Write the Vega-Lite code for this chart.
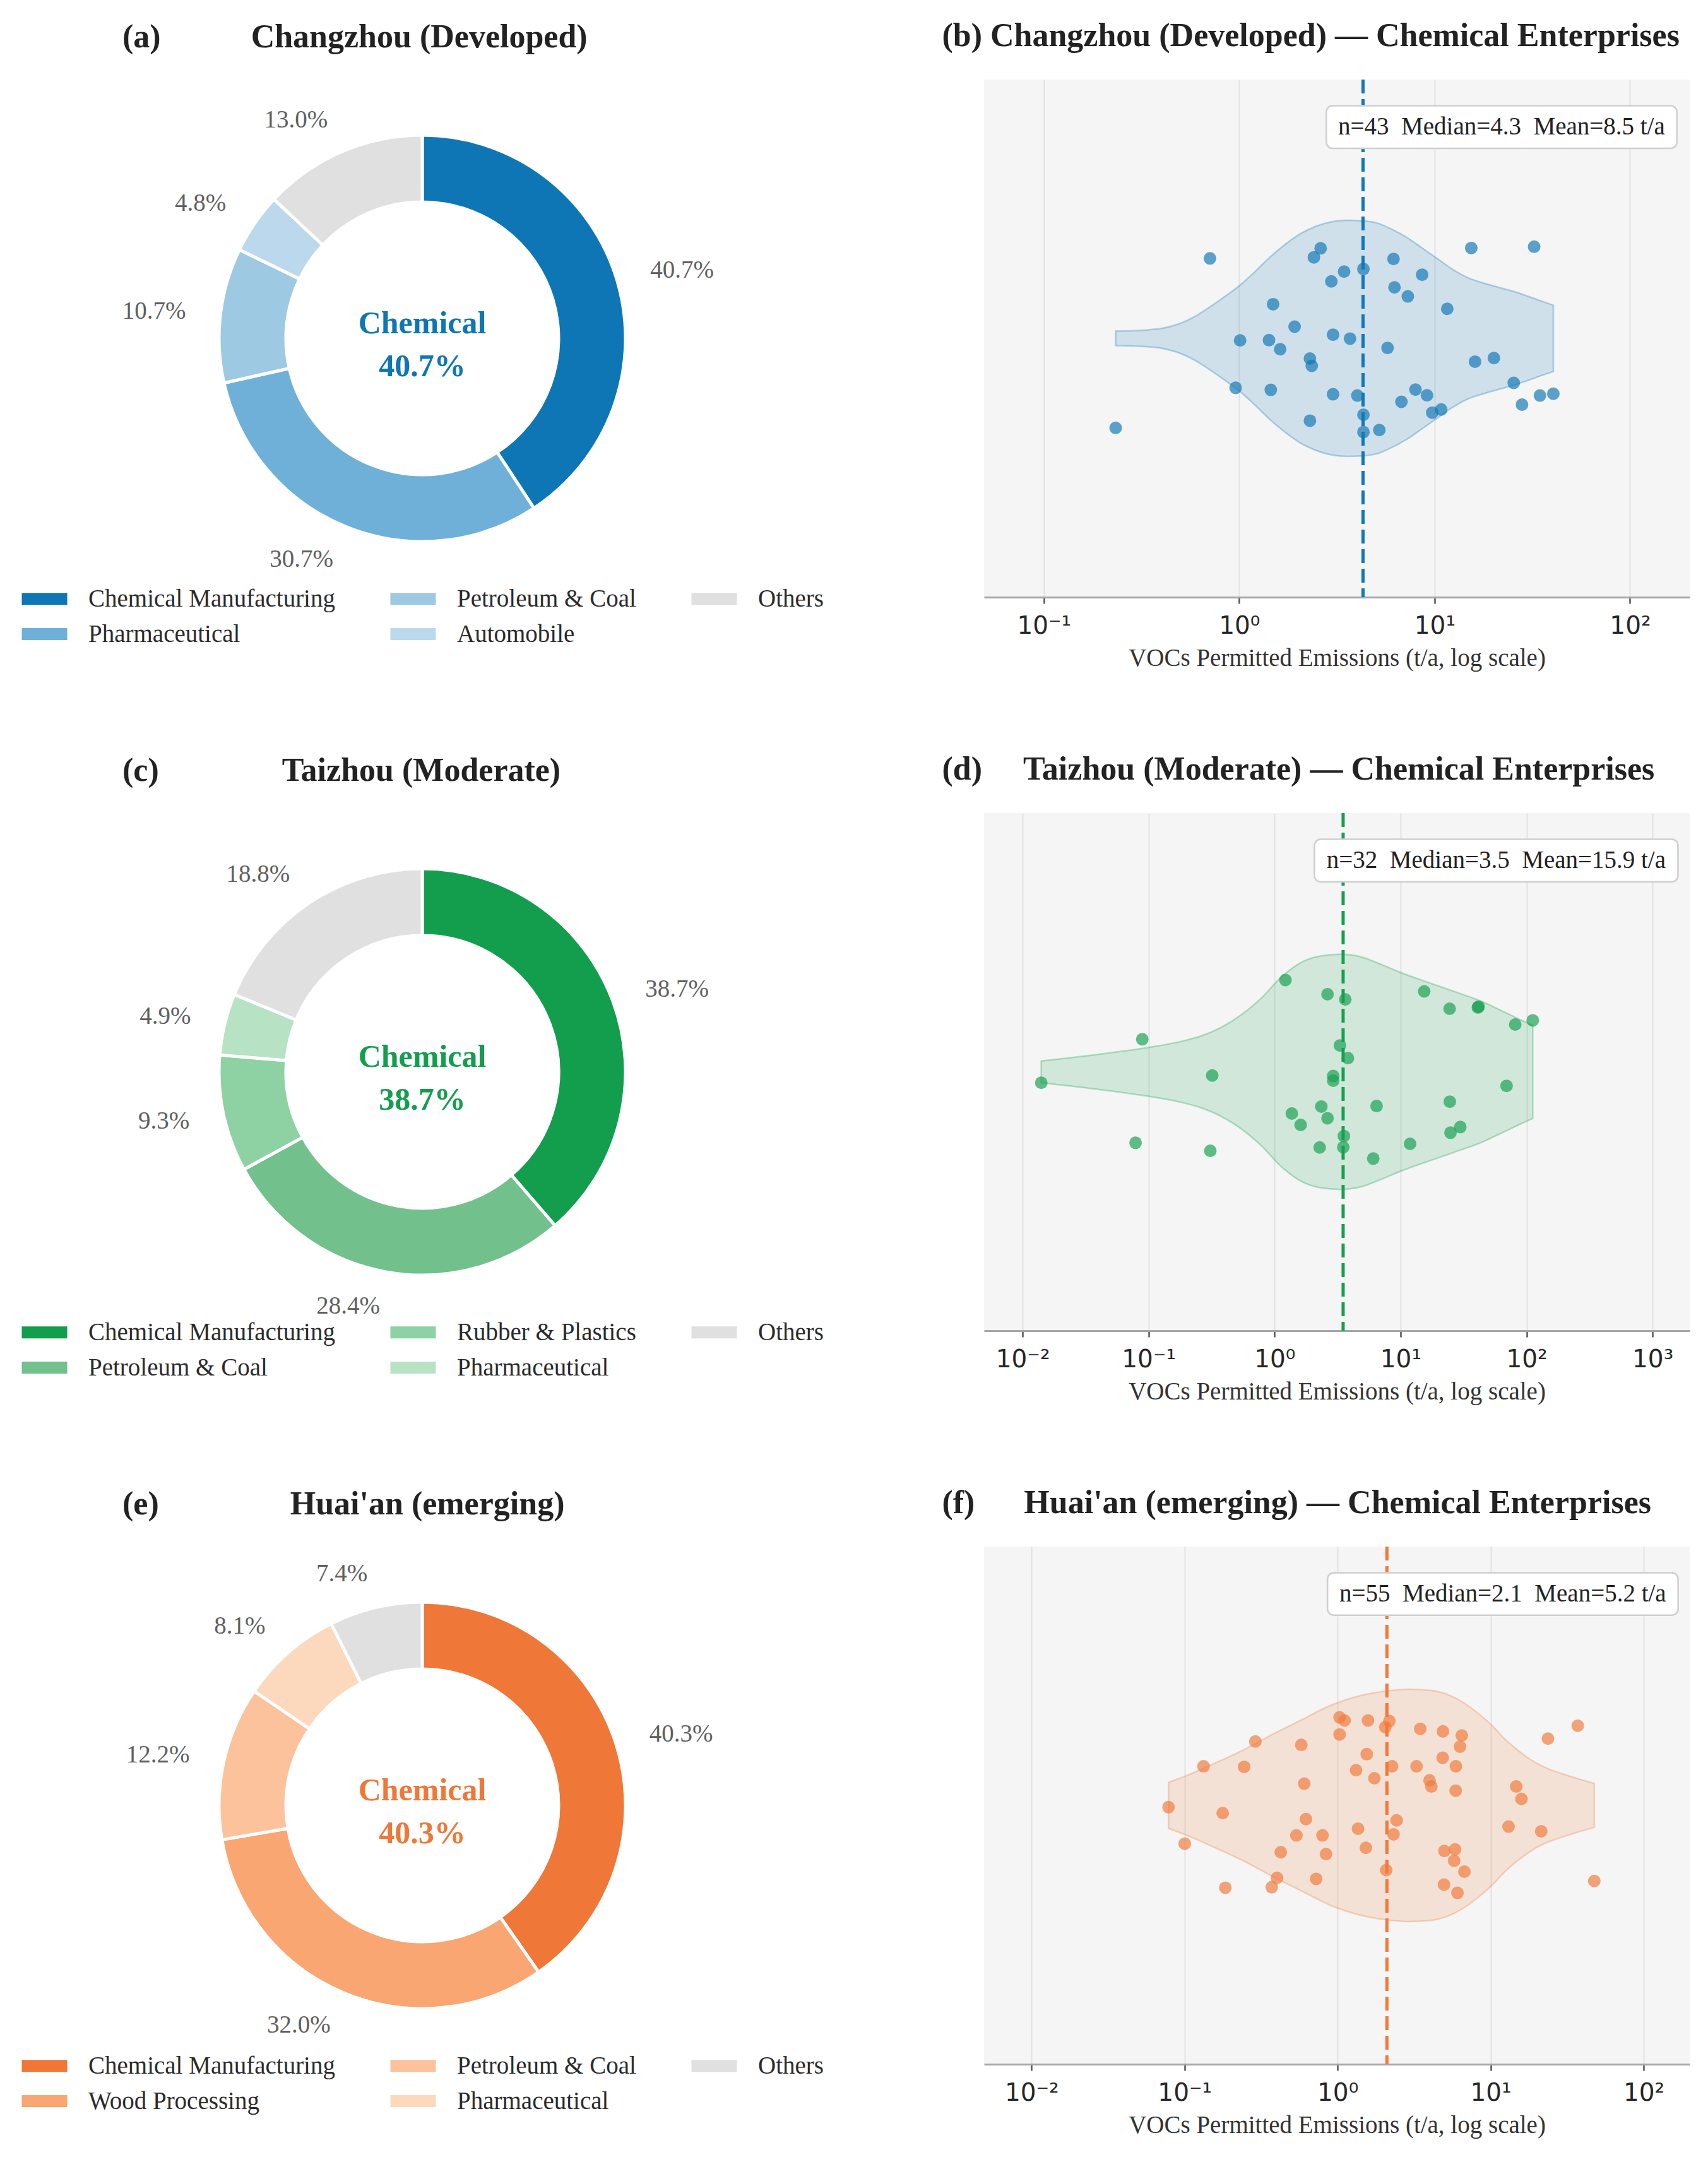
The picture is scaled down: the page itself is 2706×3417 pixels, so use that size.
{
  "$schema": "https://vega.github.io/schema/vega-lite/v6.json",
  "background": "white",
  "padding": {"left": 33, "top": 30, "right": 29, "bottom": 10},
  "columns": 2,
  "spacing": {"row": 342, "column": 254},
  "bounds": "flush",
  "resolve": {"scale": {"color": "independent"}, "legend": {"color": "independent"}},
  "config": {
    "view": {"stroke": null},
    "font": "Liberation Serif",
    "title": {"font": "Liberation Serif", "fontSize": 52, "fontWeight": "bold", "color": "#222222", "anchor": "start", "frame": "group", "baseline": "alphabetic", "offset": 40},
    "axis": {"labelFont": "DejaVu Sans", "labelFontSize": 39, "labelColor": "#262626", "titleFont": "Liberation Serif", "titleFontSize": 39, "titleFontWeight": "normal", "titleColor": "#333333", "domainColor": "#a6a6a6", "domainWidth": 3, "tickColor": "#555555", "tickWidth": 2.5, "tickSize": 10, "gridColor": "#e2e2e2", "gridWidth": 2, "labelPadding": 16, "titlePadding": 12},
    "legend": {"orient": "none", "legendX": 0, "legendY": 803, "columns": 3, "padding": 0, "offset": 0, "symbolType": "M-1.8,-0.95L5.4,-0.95L5.4,0.95L-1.8,0.95Z", "symbolSize": 400, "symbolStrokeWidth": 0, "symbolOpacity": 1, "labelFont": "Liberation Serif", "labelFontSize": 39, "labelColor": "#2b2b2b", "labelOffset": 68, "columnPadding": 86, "rowPadding": 16, "labelLimit": 1000}
  },
  "concat": [
    {
      "width": 1272, "height": 820,
      "title": {"text": "(a)\u00a0\u00a0\u00a0\u00a0\u00a0\u00a0\u00a0\u00a0\u00a0\u00a0\u00a0Changzhou (Developed)", "dx": 161},
      "data": {"values": [
        {"sector": "Chemical Manufacturing", "share": 0.407, "order": 1},
        {"sector": "Pharmaceutical", "share": 0.307, "order": 2},
        {"sector": "Petroleum & Coal", "share": 0.107, "order": 3},
        {"sector": "Automobile", "share": 0.048, "order": 4},
        {"sector": "Others", "share": 0.130, "order": 5}
      ]},
      "layer": [
        {
          "mark": {"type": "arc", "innerRadius": 216, "outerRadius": 322, "stroke": "white", "strokeWidth": 5},
          "encoding": {
            "theta": {"field": "share", "type": "quantitative", "stack": true},
            "order": {"field": "order", "type": "quantitative"},
            "color": {"field": "sector", "type": "nominal", "title": null,
              "scale": {"domain": ["Chemical Manufacturing", "Pharmaceutical", "Petroleum & Coal", "Automobile", "Others"], "range": ["#0e76b4", "#6eb0d8", "#9dc9e2", "#bcd8ec", "#e0e0e0"]}}
          }
        },
        {
          "mark": {"type": "text", "radius": 377, "fontSize": 39, "color": "#5f5f5f", "baseline": "middle",
            "align": {"expr": "(datum.share_start + datum.share_end) < 1 ? 'left' : 'right'"}},
          "encoding": {
            "theta": {"field": "share", "type": "quantitative", "stack": true},
            "order": {"field": "order", "type": "quantitative"},
            "text": {"field": "share", "type": "quantitative", "format": ".1%"}
          }
        },
        {
          "transform": [{"filter": "datum.order == 1"}],
          "mark": {"type": "text", "text": "Chemical", "fontSize": 50, "fontWeight": "bold", "color": "#0e76b4", "baseline": "middle", "dy": -23}
        },
        {
          "transform": [{"filter": "datum.order == 1"}],
          "mark": {"type": "text", "fontSize": 50, "fontWeight": "bold", "color": "#0e76b4", "baseline": "middle", "dy": 45},
          "encoding": {"text": {"field": "share", "type": "quantitative", "format": ".1%"}}
        }
      ]
    },
    {
      "width": 1118, "height": 820,
      "view": {"fill": "#f5f5f5", "stroke": null},
      "title": {"text": "(b)\u00a0Changzhou (Developed) — Chemical Enterprises", "dx": -66.6},
      "layer": [
        {
          "data": {"values": [
            {"v": 0.233, "hi": 0.028, "lo": -0.028}, {"v": 0.331, "hi": 0.032, "lo": -0.032}, {"v": 0.411, "hi": 0.040, "lo": -0.040},
            {"v": 0.492, "hi": 0.056, "lo": -0.056}, {"v": 0.588, "hi": 0.083, "lo": -0.083}, {"v": 0.703, "hi": 0.120, "lo": -0.120},
            {"v": 0.841, "hi": 0.161, "lo": -0.161}, {"v": 1.007, "hi": 0.205, "lo": -0.205}, {"v": 1.205, "hi": 0.258, "lo": -0.258},
            {"v": 1.442, "hi": 0.315, "lo": -0.315}, {"v": 1.725, "hi": 0.364, "lo": -0.364}, {"v": 2.064, "hi": 0.405, "lo": -0.405},
            {"v": 2.469, "hi": 0.433, "lo": -0.433}, {"v": 2.954, "hi": 0.450, "lo": -0.450}, {"v": 3.534, "hi": 0.456, "lo": -0.456},
            {"v": 4.228, "hi": 0.454, "lo": -0.454}, {"v": 5.058, "hi": 0.446, "lo": -0.446}, {"v": 6.052, "hi": 0.421, "lo": -0.421},
            {"v": 7.241, "hi": 0.389, "lo": -0.389}, {"v": 8.663, "hi": 0.348, "lo": -0.348}, {"v": 10.36, "hi": 0.307, "lo": -0.307},
            {"v": 12.40, "hi": 0.266, "lo": -0.266}, {"v": 14.84, "hi": 0.234, "lo": -0.234}, {"v": 17.75, "hi": 0.214, "lo": -0.214},
            {"v": 21.24, "hi": 0.197, "lo": -0.197}, {"v": 25.41, "hi": 0.181, "lo": -0.181}, {"v": 30.40, "hi": 0.161, "lo": -0.161},
            {"v": 36.37, "hi": 0.140, "lo": -0.140}, {"v": 40.5, "hi": 0.128, "lo": -0.128}
          ]},
          "mark": {"type": "area", "interpolate": "monotone", "color": "#1078b6", "fillOpacity": 0.16, "stroke": "#1078b6", "strokeOpacity": 0.3, "strokeWidth": 2.5},
          "encoding": {
            "x": {"field": "v", "type": "quantitative",
              "scale": {"type": "log", "domain": [0.0494, 202], "nice": false},
              "axis": {"values": [0.1, 1, 10, 100], "grid": true, "title": "VOCs Permitted Emissions (t/a, log scale)",
                "labelExpr": "datum.value < 0.05 ? '10⁻²' : datum.value < 0.5 ? '10⁻¹' : datum.value < 5 ? '10⁰' : datum.value < 50 ? '10¹' : datum.value < 500 ? '10²' : '10³'"}},
            "y": {"field": "hi", "type": "quantitative", "scale": {"domain": [-1, 1], "nice": false, "zero": false}, "axis": null},
            "y2": {"field": "lo"}
          }
        },
        {
          "data": {"values": [
            {"v": 0.708, "j": 0.309}, {"v": 0.233, "j": -0.346}, {"v": 2.61, "j": 0.348}, {"v": 2.41, "j": 0.313}, {"v": 3.44, "j": 0.258},
            {"v": 4.32, "j": 0.268}, {"v": 2.96, "j": 0.220}, {"v": 6.16, "j": 0.307}, {"v": 8.63, "j": 0.246}, {"v": 6.23, "j": 0.197},
            {"v": 7.29, "j": 0.162}, {"v": 15.4, "j": 0.349}, {"v": 32.3, "j": 0.354}, {"v": 11.6, "j": 0.114}, {"v": 1.49, "j": 0.132},
            {"v": 1.92, "j": 0.045}, {"v": 1.01, "j": -0.008}, {"v": 1.42, "j": -0.007}, {"v": 1.62, "j": -0.042}, {"v": 3.02, "j": 0.014},
            {"v": 3.69, "j": -0.001}, {"v": 5.74, "j": -0.037}, {"v": 2.30, "j": -0.078}, {"v": 2.35, "j": -0.106}, {"v": 16.1, "j": -0.090},
            {"v": 20.1, "j": -0.076}, {"v": 0.958, "j": -0.191}, {"v": 1.45, "j": -0.199}, {"v": 3.02, "j": -0.216}, {"v": 4.02, "j": -0.221},
            {"v": 7.98, "j": -0.198}, {"v": 9.14, "j": -0.220}, {"v": 6.76, "j": -0.245}, {"v": 25.4, "j": -0.172}, {"v": 34.6, "j": -0.221},
            {"v": 40.5, "j": -0.214}, {"v": 28.0, "j": -0.256}, {"v": 9.72, "j": -0.287}, {"v": 10.8, "j": -0.275}, {"v": 4.32, "j": -0.295},
            {"v": 2.30, "j": -0.318}, {"v": 4.32, "j": -0.362}, {"v": 5.21, "j": -0.354}
          ]},
          "mark": {"type": "circle", "size": 400, "color": "#1078b6", "opacity": 0.68},
          "encoding": {
            "x": {"field": "v", "type": "quantitative"},
            "y": {"field": "j", "type": "quantitative"}
          }
        },
        {
          "data": {"name": "statsB", "values": [{"n": 43, "median": 4.3, "mean": 8.5, "label": "n=43\u00a0\u00a0Median=4.3\u00a0\u00a0Mean=8.5 t/a"}]},
          "layer": [
            {"mark": {"type": "rule", "color": "#1078b6", "strokeWidth": 5, "strokeDash": [22, 9]},
             "encoding": {"x": {"field": "median", "type": "quantitative"}}},
            {"mark": {"type": "rect", "fill": "white", "stroke": "#cfcfcf", "strokeWidth": 2.5, "cornerRadius": 10},
             "encoding": {"x": {"datum": 2.79, "type": "quantitative"}, "x2": {"datum": 173.8}, "y": {"datum": 0.899, "type": "quantitative"}, "y2": {"datum": 0.734}}},
            {"mark": {"type": "text", "fontSize": 39, "color": "#222222", "align": "center", "baseline": "middle"},
             "encoding": {"x": {"datum": 22.0, "type": "quantitative"}, "y": {"datum": 0.817, "type": "quantitative"}, "text": {"field": "label"}}}
          ]
        }
      ]
    },
    {
      "width": 1272, "height": 820,
      "title": {"text": "(c)\u00a0\u00a0\u00a0\u00a0\u00a0\u00a0\u00a0\u00a0\u00a0\u00a0\u00a0\u00a0\u00a0\u00a0\u00a0Taizhou (Moderate)", "dx": 161},
      "data": {"values": [
        {"sector": "Chemical Manufacturing", "share": 0.387, "order": 1},
        {"sector": "Petroleum & Coal", "share": 0.284, "order": 2},
        {"sector": "Rubber & Plastics", "share": 0.093, "order": 3},
        {"sector": "Pharmaceutical", "share": 0.049, "order": 4},
        {"sector": "Others", "share": 0.188, "order": 5}
      ]},
      "layer": [
        {
          "mark": {"type": "arc", "innerRadius": 216, "outerRadius": 322, "stroke": "white", "strokeWidth": 5},
          "encoding": {
            "theta": {"field": "share", "type": "quantitative", "stack": true},
            "order": {"field": "order", "type": "quantitative"},
            "color": {"field": "sector", "type": "nominal", "title": null,
              "scale": {"domain": ["Chemical Manufacturing", "Petroleum & Coal", "Rubber & Plastics", "Pharmaceutical", "Others"], "range": ["#139e4e", "#72c08c", "#8ed1a3", "#b8e2c4", "#e0e0e0"]}}
          }
        },
        {
          "mark": {"type": "text", "radius": 377, "fontSize": 39, "color": "#5f5f5f", "baseline": "middle",
            "align": {"expr": "(datum.share_start + datum.share_end) < 1 ? 'left' : 'right'"}},
          "encoding": {
            "theta": {"field": "share", "type": "quantitative", "stack": true},
            "order": {"field": "order", "type": "quantitative"},
            "text": {"field": "share", "type": "quantitative", "format": ".1%"}
          }
        },
        {
          "transform": [{"filter": "datum.order == 1"}],
          "mark": {"type": "text", "text": "Chemical", "fontSize": 50, "fontWeight": "bold", "color": "#139e4e", "baseline": "middle", "dy": -23}
        },
        {
          "transform": [{"filter": "datum.order == 1"}],
          "mark": {"type": "text", "fontSize": 50, "fontWeight": "bold", "color": "#139e4e", "baseline": "middle", "dy": 45},
          "encoding": {"text": {"field": "share", "type": "quantitative", "format": ".1%"}}
        }
      ]
    },
    {
      "width": 1118, "height": 820,
      "view": {"fill": "#f5f5f5", "stroke": null},
      "title": {"text": "(d)\u00a0\u00a0\u00a0\u00a0\u00a0Taizhou (Moderate) — Chemical Enterprises", "dx": -66.6},
      "layer": [
        {
          "data": {"values": [
            {"v": 0.01406, "hi": 0.042, "lo": -0.042}, {"v": 0.0373, "hi": 0.066, "lo": -0.066}, {"v": 0.0988, "hi": 0.094, "lo": -0.094},
            {"v": 0.171, "hi": 0.115, "lo": -0.115}, {"v": 0.262, "hi": 0.139, "lo": -0.139}, {"v": 0.377, "hi": 0.172, "lo": -0.172},
            {"v": 0.543, "hi": 0.220, "lo": -0.220}, {"v": 0.784, "hi": 0.285, "lo": -0.285}, {"v": 1.130, "hi": 0.366, "lo": -0.366},
            {"v": 1.628, "hi": 0.423, "lo": -0.423}, {"v": 2.345, "hi": 0.448, "lo": -0.448}, {"v": 3.381, "hi": 0.454, "lo": -0.454},
            {"v": 4.874, "hi": 0.444, "lo": -0.444}, {"v": 7.023, "hi": 0.415, "lo": -0.415}, {"v": 10.12, "hi": 0.383, "lo": -0.383},
            {"v": 16.48, "hi": 0.346, "lo": -0.346}, {"v": 26.83, "hi": 0.310, "lo": -0.310}, {"v": 43.67, "hi": 0.273, "lo": -0.273},
            {"v": 62.93, "hi": 0.237, "lo": -0.237}, {"v": 90.7, "hi": 0.200, "lo": -0.200}, {"v": 112, "hi": 0.180, "lo": -0.180}
          ]},
          "mark": {"type": "area", "interpolate": "monotone", "color": "#16a050", "fillOpacity": 0.16, "stroke": "#16a050", "strokeOpacity": 0.3, "strokeWidth": 2.5},
          "encoding": {
            "x": {"field": "v", "type": "quantitative",
              "scale": {"type": "log", "domain": [0.00494, 1972], "nice": false},
              "axis": {"values": [0.01, 0.1, 1, 10, 100, 1000], "grid": true, "title": "VOCs Permitted Emissions (t/a, log scale)",
                "labelExpr": "datum.value < 0.05 ? '10⁻²' : datum.value < 0.5 ? '10⁻¹' : datum.value < 5 ? '10⁰' : datum.value < 50 ? '10¹' : datum.value < 500 ? '10²' : '10³'"}},
            "y": {"field": "hi", "type": "quantitative", "scale": {"domain": [-1, 1], "nice": false, "zero": false}, "axis": null},
            "y2": {"field": "lo"}
          }
        },
        {
          "data": {"values": [
            {"v": 0.01406, "j": -0.042}, {"v": 0.0891, "j": 0.126}, {"v": 0.0788, "j": -0.274}, {"v": 0.320, "j": -0.014},
            {"v": 0.309, "j": -0.305}, {"v": 1.22, "j": 0.355}, {"v": 2.63, "j": 0.300}, {"v": 3.64, "j": 0.280},
            {"v": 3.30, "j": 0.102}, {"v": 3.82, "j": 0.053}, {"v": 2.92, "j": -0.016}, {"v": 2.92, "j": -0.034},
            {"v": 2.35, "j": -0.134}, {"v": 1.37, "j": -0.161}, {"v": 2.63, "j": -0.179}, {"v": 1.61, "j": -0.205},
            {"v": 3.55, "j": -0.248}, {"v": 3.51, "j": -0.291}, {"v": 2.28, "j": -0.292}, {"v": 6.45, "j": -0.132},
            {"v": 6.07, "j": -0.335}, {"v": 11.9, "j": -0.278}, {"v": 15.4, "j": 0.311}, {"v": 24.5, "j": 0.244},
            {"v": 41.1, "j": 0.249}, {"v": 41.6, "j": 0.252}, {"v": 81.3, "j": 0.183}, {"v": 112, "j": 0.199},
            {"v": 69.4, "j": -0.054}, {"v": 24.6, "j": -0.115}, {"v": 24.9, "j": -0.235}, {"v": 29.8, "j": -0.213}
          ]},
          "mark": {"type": "circle", "size": 400, "color": "#16a050", "opacity": 0.68},
          "encoding": {
            "x": {"field": "v", "type": "quantitative"},
            "y": {"field": "j", "type": "quantitative"}
          }
        },
        {
          "data": {"name": "statsD", "values": [{"n": 32, "median": 3.5, "mean": 15.9, "label": "n=32\u00a0\u00a0Median=3.5\u00a0\u00a0Mean=15.9 t/a"}]},
          "layer": [
            {"mark": {"type": "rule", "color": "#16a050", "strokeWidth": 5, "strokeDash": [22, 9]},
             "encoding": {"x": {"field": "median", "type": "quantitative"}}},
            {"mark": {"type": "rect", "fill": "white", "stroke": "#cfcfcf", "strokeWidth": 2.5, "cornerRadius": 10},
             "encoding": {"x": {"datum": 2.07, "type": "quantitative"}, "x2": {"datum": 1592}, "y": {"datum": 0.899, "type": "quantitative"}, "y2": {"datum": 0.734}}},
            {"mark": {"type": "text", "fontSize": 39, "color": "#222222", "align": "center", "baseline": "middle"},
             "encoding": {"x": {"datum": 57.4, "type": "quantitative"}, "y": {"datum": 0.817, "type": "quantitative"}, "text": {"field": "label"}}}
          ]
        }
      ]
    },
    {
      "width": 1272, "height": 820,
      "title": {"text": "(e)\u00a0\u00a0\u00a0\u00a0\u00a0\u00a0\u00a0\u00a0\u00a0\u00a0\u00a0\u00a0\u00a0\u00a0\u00a0\u00a0Huai'an (emerging)", "dx": 161},
      "data": {"values": [
        {"sector": "Chemical Manufacturing", "share": 0.403, "order": 1},
        {"sector": "Wood Processing", "share": 0.320, "order": 2},
        {"sector": "Petroleum & Coal", "share": 0.122, "order": 3},
        {"sector": "Pharmaceutical", "share": 0.081, "order": 4},
        {"sector": "Others", "share": 0.074, "order": 5}
      ]},
      "layer": [
        {
          "mark": {"type": "arc", "innerRadius": 216, "outerRadius": 322, "stroke": "white", "strokeWidth": 5},
          "encoding": {
            "theta": {"field": "share", "type": "quantitative", "stack": true},
            "order": {"field": "order", "type": "quantitative"},
            "color": {"field": "sector", "type": "nominal", "title": null,
              "scale": {"domain": ["Chemical Manufacturing", "Wood Processing", "Petroleum & Coal", "Pharmaceutical", "Others"], "range": ["#ef7738", "#f9a672", "#fcc29c", "#fcd8bd", "#e0e0e0"]}}
          }
        },
        {
          "mark": {"type": "text", "radius": 377, "fontSize": 39, "color": "#5f5f5f", "baseline": "middle",
            "align": {"expr": "(datum.share_start + datum.share_end) < 1 ? 'left' : 'right'"}},
          "encoding": {
            "theta": {"field": "share", "type": "quantitative", "stack": true},
            "order": {"field": "order", "type": "quantitative"},
            "text": {"field": "share", "type": "quantitative", "format": ".1%"}
          }
        },
        {
          "transform": [{"filter": "datum.order == 1"}],
          "mark": {"type": "text", "text": "Chemical", "fontSize": 50, "fontWeight": "bold", "color": "#ef7738", "baseline": "middle", "dy": -23}
        },
        {
          "transform": [{"filter": "datum.order == 1"}],
          "mark": {"type": "text", "fontSize": 50, "fontWeight": "bold", "color": "#ef7738", "baseline": "middle", "dy": 45},
          "encoding": {"text": {"field": "share", "type": "quantitative", "format": ".1%"}}
        }
      ]
    },
    {
      "width": 1118, "height": 820,
      "view": {"fill": "#f5f5f5", "stroke": null},
      "title": {"text": "(f)\u00a0\u00a0\u00a0\u00a0\u00a0\u00a0Huai'an (emerging) — Chemical Enterprises", "dx": -66.6},
      "layer": [
        {
          "data": {"values": [
            {"v": 0.0785, "hi": 0.089, "lo": -0.089}, {"v": 0.1011, "hi": 0.113, "lo": -0.113}, {"v": 0.1564, "hi": 0.162, "lo": -0.162},
            {"v": 0.242, "hi": 0.214, "lo": -0.214}, {"v": 0.374, "hi": 0.274, "lo": -0.274}, {"v": 0.579, "hi": 0.330, "lo": -0.330},
            {"v": 0.897, "hi": 0.386, "lo": -0.386}, {"v": 1.387, "hi": 0.423, "lo": -0.423}, {"v": 2.147, "hi": 0.443, "lo": -0.443},
            {"v": 2.913, "hi": 0.449, "lo": -0.449}, {"v": 4.130, "hi": 0.444, "lo": -0.444}, {"v": 6.394, "hi": 0.403, "lo": -0.403},
            {"v": 8.674, "hi": 0.346, "lo": -0.346}, {"v": 10.33, "hi": 0.306, "lo": -0.306}, {"v": 12.30, "hi": 0.258, "lo": -0.258},
            {"v": 15.30, "hi": 0.210, "lo": -0.210}, {"v": 19.04, "hi": 0.170, "lo": -0.170}, {"v": 23.68, "hi": 0.142, "lo": -0.142},
            {"v": 29.46, "hi": 0.122, "lo": -0.122}, {"v": 38.28, "hi": 0.101, "lo": -0.101}, {"v": 47.6, "hi": 0.085, "lo": -0.085}
          ]},
          "mark": {"type": "area", "interpolate": "monotone", "color": "#f07a3b", "fillOpacity": 0.16, "stroke": "#f07a3b", "strokeOpacity": 0.3, "strokeWidth": 2.5},
          "encoding": {
            "x": {"field": "v", "type": "quantitative",
              "scale": {"type": "log", "domain": [0.00489, 200], "nice": false},
              "axis": {"values": [0.01, 0.1, 1, 10, 100], "grid": true, "title": "VOCs Permitted Emissions (t/a, log scale)",
                "labelExpr": "datum.value < 0.05 ? '10⁻²' : datum.value < 0.5 ? '10⁻¹' : datum.value < 5 ? '10⁰' : datum.value < 50 ? '10¹' : datum.value < 500 ? '10²' : '10³'"}},
            "y": {"field": "hi", "type": "quantitative", "scale": {"domain": [-1, 1], "nice": false, "zero": false}, "axis": null},
            "y2": {"field": "lo"}
          }
        },
        {
          "data": {"values": [
            {"v": 0.0785, "j": -0.007}, {"v": 0.1002, "j": -0.148}, {"v": 0.133, "j": 0.151}, {"v": 0.1775, "j": -0.030},
            {"v": 0.1846, "j": -0.318}, {"v": 0.245, "j": 0.149}, {"v": 0.290, "j": 0.247}, {"v": 0.371, "j": -0.316},
            {"v": 0.402, "j": -0.280}, {"v": 0.425, "j": -0.181}, {"v": 0.538, "j": -0.116}, {"v": 0.579, "j": 0.234},
            {"v": 0.605, "j": 0.084}, {"v": 0.621, "j": -0.053}, {"v": 0.724, "j": -0.284}, {"v": 0.797, "j": -0.116},
            {"v": 0.840, "j": -0.188}, {"v": 1.03, "j": 0.340}, {"v": 1.11, "j": 0.328}, {"v": 1.03, "j": 0.274},
            {"v": 1.36, "j": -0.090}, {"v": 1.32, "j": 0.136}, {"v": 1.53, "j": -0.164}, {"v": 1.55, "j": 0.198},
            {"v": 1.58, "j": 0.328}, {"v": 1.74, "j": 0.105}, {"v": 2.05, "j": 0.302}, {"v": 2.18, "j": 0.326},
            {"v": 2.08, "j": -0.250}, {"v": 2.27, "j": 0.151}, {"v": 2.32, "j": -0.112}, {"v": 2.43, "j": -0.058},
            {"v": 3.28, "j": 0.151}, {"v": 3.47, "j": 0.296}, {"v": 3.99, "j": 0.097}, {"v": 4.10, "j": 0.073},
            {"v": 4.86, "j": 0.184}, {"v": 4.88, "j": 0.286}, {"v": 4.99, "j": -0.176}, {"v": 4.96, "j": -0.306},
            {"v": 5.86, "j": -0.170}, {"v": 5.78, "j": -0.214}, {"v": 5.93, "j": 0.151}, {"v": 5.91, "j": 0.057},
            {"v": 6.31, "j": 0.227}, {"v": 6.48, "j": 0.270}, {"v": 6.07, "j": -0.338}, {"v": 6.74, "j": -0.256},
            {"v": 13.1, "j": -0.082}, {"v": 14.7, "j": 0.073}, {"v": 15.9, "j": 0.025}, {"v": 21.4, "j": -0.100},
            {"v": 23.7, "j": 0.258}, {"v": 37.1, "j": 0.308}, {"v": 47.6, "j": -0.292}
          ]},
          "mark": {"type": "circle", "size": 400, "color": "#f07a3b", "opacity": 0.68},
          "encoding": {
            "x": {"field": "v", "type": "quantitative"},
            "y": {"field": "j", "type": "quantitative"}
          }
        },
        {
          "data": {"name": "statsF", "values": [{"n": 55, "median": 2.1, "mean": 5.2, "label": "n=55\u00a0\u00a0Median=2.1\u00a0\u00a0Mean=5.2 t/a"}]},
          "layer": [
            {"mark": {"type": "rule", "color": "#f07a3b", "strokeWidth": 5, "strokeDash": [22, 9]},
             "encoding": {"x": {"field": "median", "type": "quantitative"}}},
            {"mark": {"type": "rect", "fill": "white", "stroke": "#cfcfcf", "strokeWidth": 2.5, "cornerRadius": 10},
             "encoding": {"x": {"datum": 0.859, "type": "quantitative"}, "x2": {"datum": 168}, "y": {"datum": 0.899, "type": "quantitative"}, "y2": {"datum": 0.735}}},
            {"mark": {"type": "text", "fontSize": 39, "color": "#222222", "align": "center", "baseline": "middle"},
             "encoding": {"x": {"datum": 12.0, "type": "quantitative"}, "y": {"datum": 0.817, "type": "quantitative"}, "text": {"field": "label"}}}
          ]
        }
      ]
    }
  ]
}
